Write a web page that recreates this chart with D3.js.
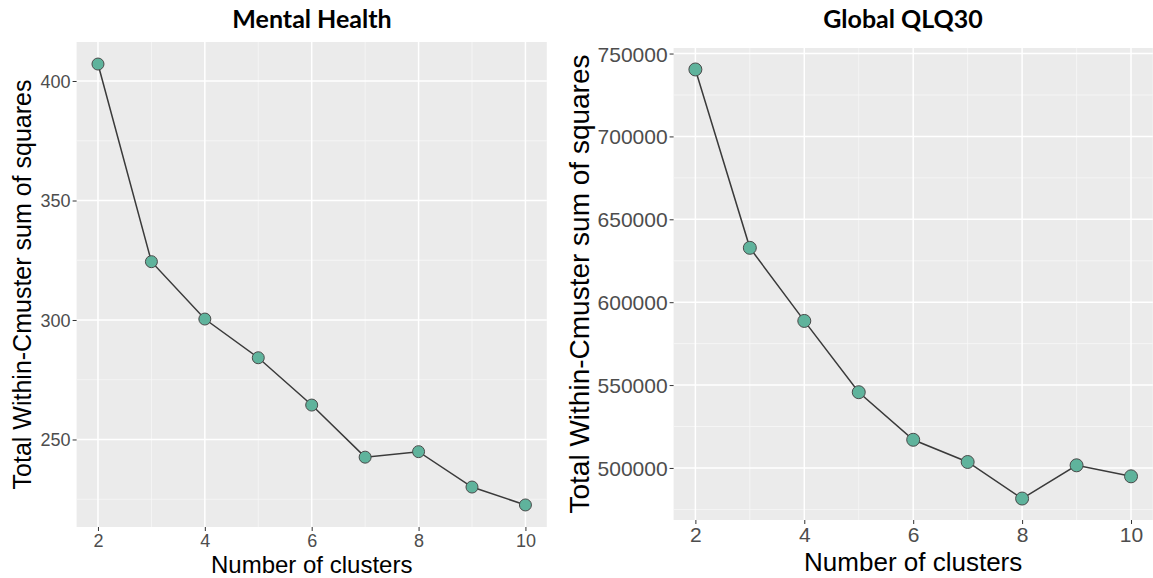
<!DOCTYPE html>
<html>
<head>
<meta charset="utf-8">
<script src="https://cdn.jsdelivr.net/npm/d3@7"></script>
<style>
  body { margin: 0; background: #fff; }
  svg { display: block; }
  .tick text { fill: #4d4d4d; font-family: "Liberation Sans", Arial, sans-serif; }
  .tick line { stroke: #333; }
</style>
</head>
<body>
<svg width="1153" height="578"></svg>
<script>
// number of clusters (x)
const clusters = [2, 3, 4, 5, 6, 7, 8, 9, 10];
// total within-cluster sum of squares
const mentalHealth = [407.1, 324.4, 300.4, 284.2, 264.4, 242.6, 244.9, 230.1, 222.6];
const globalQlq30 = [740400, 632800, 588700, 545700, 517000, 503600, 481550, 501600, 494950];

const xTicks = [2, 4, 6, 8, 10];
const mentalTicks = [250, 300, 350, 400];
const globalTicks = [500000, 550000, 600000, 650000, 700000, 750000];

const titles = ['Mental Health', 'Global QLQ30'];
const xTitle = 'Number of clusters';
const yTitle = 'Total Within-Cmuster sum of squares';

const svg = d3.select('svg');

// ggplot-style 5% expansion
function expand(ext) {
    const pad = (ext[1] - ext[0]) * 0.05;
    return [ext[0] - pad, ext[1] + pad];
}

function drawPanel(cfg) {
    const x = d3.scaleLinear().domain(expand(d3.extent(clusters))).range([cfg.left, cfg.right]);
    const y = d3.scaleLinear().domain(expand(d3.extent(cfg.values))).range([cfg.bottom, cfg.top]);
    const g = svg.append('g');

    // panel background
    g.append('rect')
        .attr('x', cfg.left).attr('y', cfg.top)
        .attr('width', cfg.right - cfg.left).attr('height', cfg.bottom - cfg.top)
        .attr('fill', '#ebebeb');

    // minor grid
    const step = cfg.ticks[1] - cfg.ticks[0];
    const yMinor = cfg.ticks.map(t => t - step / 2).concat([cfg.ticks[cfg.ticks.length - 1] + step / 2])
        .filter(v => v >= y.domain()[0] && v <= y.domain()[1]);
    const xMinor = [3, 5, 7, 9];
    g.selectAll('.hminor').data(yMinor).enter().append('line')
        .attr('x1', cfg.left).attr('x2', cfg.right)
        .attr('y1', d => y(d)).attr('y2', d => y(d))
        .attr('stroke', '#f7f7f7').attr('stroke-width', 0.8);
    g.selectAll('.vminor').data(xMinor).enter().append('line')
        .attr('y1', cfg.top).attr('y2', cfg.bottom)
        .attr('x1', d => x(d)).attr('x2', d => x(d))
        .attr('stroke', '#f7f7f7').attr('stroke-width', 0.8);

    // major grid
    g.selectAll('.hmajor').data(cfg.ticks).enter().append('line')
        .attr('x1', cfg.left).attr('x2', cfg.right)
        .attr('y1', d => y(d)).attr('y2', d => y(d))
        .attr('stroke', '#fff').attr('stroke-width', 1.5);
    g.selectAll('.vmajor').data(xTicks).enter().append('line')
        .attr('y1', cfg.top).attr('y2', cfg.bottom)
        .attr('x1', d => x(d)).attr('x2', d => x(d))
        .attr('stroke', '#fff').attr('stroke-width', 1.5);

    // axes
    const yAxis = g.append('g')
        .attr('transform', `translate(${cfg.left},0)`)
        .call(d3.axisLeft(y).tickValues(cfg.ticks).tickSize(4).tickPadding(2).tickFormat(d3.format('d')));
    yAxis.select('.domain').remove();
    yAxis.selectAll('text').style('font-size', cfg.tickFont + 'px').attr('dy', '0.36em');

    const xAxis = g.append('g')
        .attr('transform', `translate(0,${cfg.bottom})`)
        .call(d3.axisBottom(x).tickValues(xTicks).tickSize(4).tickPadding(3).tickFormat(d3.format('d')));
    xAxis.select('.domain').remove();
    xAxis.selectAll('text').style('font-size', cfg.tickFont + 'px');

    // line + points
    const pts = clusters.map((c, i) => [c, cfg.values[i]]);
    g.append('path')
        .datum(pts)
        .attr('d', d3.line().x(d => x(d[0])).y(d => y(d[1])))
        .attr('fill', 'none')
        .attr('stroke', '#3a3a3a')
        .attr('stroke-width', 1.5);
    g.selectAll('.pt').data(pts).enter().append('circle')
        .attr('cx', d => x(d[0])).attr('cy', d => y(d[1]))
        .attr('r', cfg.r)
        .attr('fill', '#5fb39c')
        .attr('stroke', '#4a4a4a')
        .attr('stroke-width', 1);

    // titles
    const cx = (cfg.left + cfg.right) / 2;
    g.append('text')
        .attr('x', cfg.titleX).attr('y', 28)
        .attr('text-anchor', 'middle')
        .style('font-family', 'Lato, "Open Sans", sans-serif')
        .style('font-weight', 700)
        .style('font-size', cfg.titleFont + 'px')
        .text(cfg.title);
    g.append('text')
        .attr('x', cx).attr('y', cfg.xTitleY)
        .attr('text-anchor', 'middle')
        .style('font-family', '"Liberation Sans", Arial, sans-serif')
        .style('font-size', cfg.axisFont + 'px')
        .text(xTitle);
    g.append('text')
        .attr('transform', `translate(${cfg.yTitleX},${(cfg.top + cfg.bottom) / 2}) rotate(-90)`)
        .attr('text-anchor', 'middle')
        .attr('dy', '0.35em')
        .style('font-family', '"Liberation Sans", Arial, sans-serif')
        .style('font-size', cfg.yAxisFont + 'px')
        .text(yTitle);
}

drawPanel({
    title: titles[0], values: mentalHealth, ticks: mentalTicks,
    left: 76.6, right: 546.8, top: 42, bottom: 527,
    tickFont: 18, axisFont: 24, yAxisFont: 25, titleFont: 25, r: 6,
    titleX: 312, xTitleY: 573, yTitleX: 22
});
drawPanel({
    title: titles[1], values: globalQlq30, ticks: globalTicks,
    left: 673.6, right: 1152.8, top: 48, bottom: 520,
    tickFont: 21, axisFont: 26, yAxisFont: 28, titleFont: 25, r: 6.5,
    titleX: 903, xTitleY: 571, yTitleX: 579
});
</script>
</body>
</html>
